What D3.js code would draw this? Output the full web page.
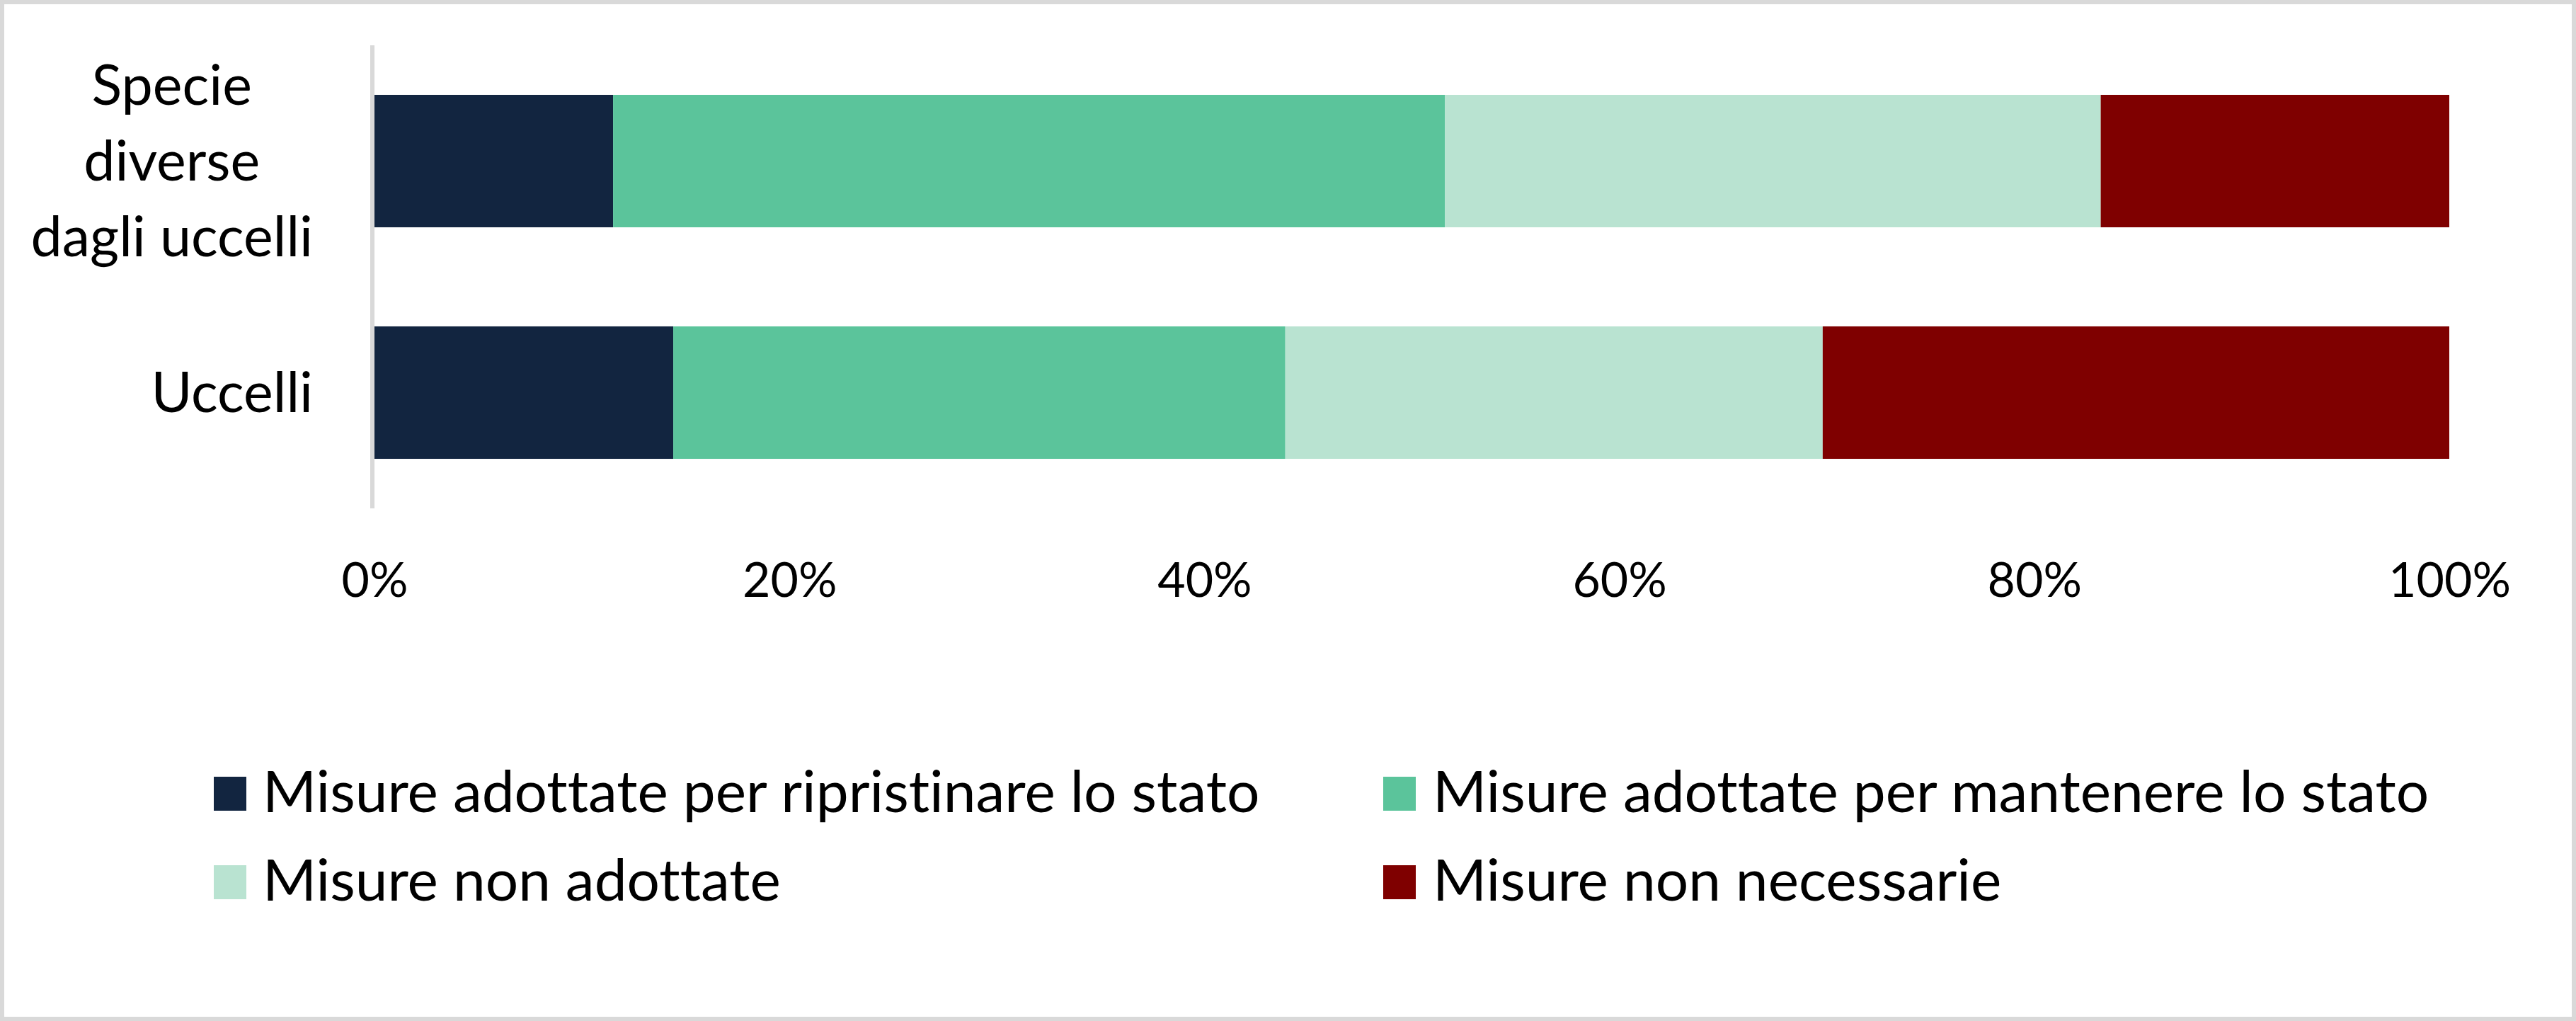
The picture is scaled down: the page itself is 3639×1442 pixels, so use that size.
<!DOCTYPE html>
<html>
<head>
<meta charset="utf-8">
<script src="https://cdn.jsdelivr.net/npm/d3@7/dist/d3.min.js"></script>
<style>
  html, body { margin: 0; padding: 0; background: #ffffff; }
  svg { display: block; }
  text { font-family: "Lato", "Open Sans", sans-serif; fill: #000000; font-variant-ligatures: none; font-feature-settings: "liga" 0, "clig" 0; }
</style>
</head>
<body>
<svg id="chart" width="3639" height="1442"></svg>
<script>
// ---- data ----
const categories = ["Specie diverse dagli uccelli", "Uccelli"];
const categoryLines = [["Specie", "diverse", "dagli uccelli"], ["Uccelli"]];
const seriesNames = [
  "Misure adottate per ripristinare lo stato",
  "Misure adottate per mantenere lo stato",
  "Misure non adottate",
  "Misure non necessarie"
];
const ripristinare   = [11.5, 14.4];
const mantenere      = [40.1, 29.5];
const nonAdottate    = [31.6, 25.9];
const nonNecessarie  = [16.8, 30.2];
const tickValues = [0, 20, 40, 60, 80, 100];
const tickLabels = ["0%", "20%", "40%", "60%", "80%", "100%"];
const seriesColors = ["#122540", "#5bc49b", "#b9e3d1", "#7f0000"];

// ---- build table ----
const seriesValues = [ripristinare, mantenere, nonAdottate, nonNecessarie];
const table = categories.map((c, i) => {
  const row = { category: c };
  seriesNames.forEach((s, j) => { row[s] = seriesValues[j][i]; });
  return row;
});
const stacked = d3.stack().keys(seriesNames)(table);

// ---- layout ----
const W = 3639, H = 1442;
const svg = d3.select("#chart");
const FS_TICK = 68, FS_CAT = 79, FS_LEG = 82;

svg.append("rect").attr("x", 3).attr("y", 3).attr("width", W - 6).attr("height", H - 6)
  .attr("fill", "#ffffff").attr("stroke", "#d9d9d9").attr("stroke-width", 6);

const x = d3.scaleLinear().domain([0, 100]).range([529, 3460]);
const y = d3.scaleBand().domain(categories).range([64, 718])
  .paddingInner(0.428).paddingOuter(0.214);

// bars
const g = svg.append("g");
g.selectAll("g.series").data(stacked).join("g")
  .attr("class", "series")
  .attr("fill", (d, i) => seriesColors[i])
  .selectAll("rect").data(d => d).join("rect")
  .attr("x", d => x(d[0]))
  .attr("width", d => x(d[1]) - x(d[0]))
  .attr("y", d => y(d.data.category))
  .attr("height", y.bandwidth());

// vertical axis line
svg.append("line")
  .attr("x1", x(0) - 3).attr("x2", x(0) - 3)
  .attr("y1", y.range()[0]).attr("y2", y.range()[1])
  .attr("stroke", "#d9d9d9").attr("stroke-width", 6);

// x tick labels
const xAxis = d3.axisBottom(x).tickValues(tickValues)
  .tickFormat((d, i) => tickLabels[i]).tickSize(0).tickPadding(0);
const xg = svg.append("g").attr("transform", "translate(0,843)").call(xAxis);
xg.select(".domain").remove();
xg.selectAll("text").attr("dy", null).attr("y", 0)
  .style("font-size", FS_TICK + "px").style("font-family", "Lato, 'Open Sans', sans-serif")
  .attr("fill", "#000");

// category labels
const labelRight = 442;
const lineH = 107;
categories.forEach((c, i) => {
  const lines = categoryLines[i];
  const cy = y(c) + y.bandwidth() / 2;
  const t = svg.append("text").attr("font-size", FS_CAT).attr("text-anchor", "middle");
  const tsp = t.selectAll("tspan").data(lines).join("tspan").text(d => d);
  let maxW = 0;
  tsp.each(function () { maxW = Math.max(maxW, this.getComputedTextLength()); });
  const cx = labelRight - maxW / 2;
  const n = lines.length;
  tsp.attr("x", cx)
     .attr("y", (d, k) => cy + (k - (n - 1) / 2) * lineH + FS_CAT * 0.35);
});

// legend
const legendPos = [
  { sx: 302, tx: 371, by: 1147 },
  { sx: 1954, tx: 2024, by: 1147 },
  { sx: 302, tx: 371, by: 1272 },
  { sx: 1954, tx: 2024, by: 1272 }
];
const lg = svg.append("g").selectAll("g").data(seriesNames).join("g");
lg.append("rect")
  .attr("x", (d, i) => legendPos[i].sx)
  .attr("y", (d, i) => legendPos[i].by - 50)
  .attr("width", 46).attr("height", 48)
  .attr("fill", (d, i) => seriesColors[i]);
lg.append("text")
  .attr("x", (d, i) => legendPos[i].tx)
  .attr("y", (d, i) => legendPos[i].by)
  .attr("font-size", FS_LEG)
  .text(d => d);
</script>
</body>
</html>
